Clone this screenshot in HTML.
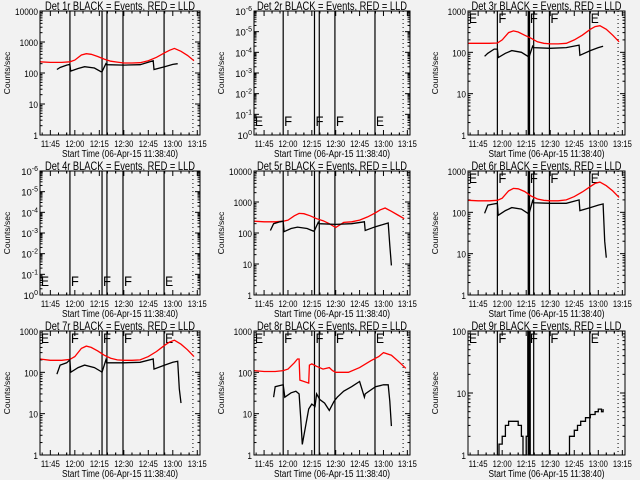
<!DOCTYPE html>
<html><head><meta charset="utf-8"><style>
html,body{margin:0;padding:0;background:#f2f2f2;}
svg{display:block;font-family:"Liberation Sans",sans-serif;}
</style></head><body>
<svg id="chart" width="640" height="480" viewBox="0 0 640 480">
<rect x="0" y="0" width="640" height="480" fill="#f2f2f2"/>
</svg>
<script>
// ---- data (times are clock strings, values are counts/sec) ----
const xTickLabels = ["11:45","12:00","12:15","12:30","12:45","13:00","13:15"];
const markerTimes = ["11:57","12:16:40","12:19:40","12:29:30","12:54:40"];
const markerLetters = ["F","F","F","F","E"];
const dottedTime = "13:12:20";
const redT = ["11:38:40","11:45","11:52","11:57","12:00","12:04","12:07","12:10","12:14","12:18","12:22","12:26","12:30","12:35","12:40","12:45","12:50","12:55","12:58","13:01","13:05","13:09","13:13"];
const p1Red = [230,220,220,230,260,380,420,400,340,280,240,225,210,210,215,250,320,450,540,620,500,370,250];
const p3Red = [165,165,165,168,200,300,330,310,260,220,180,165,160,160,165,200,260,360,420,440,360,260,180];
const p5Red = [240,230,230,240,260,360,430,420,360,290,250,200,150,220,230,260,330,450,560,640,500,380,290];
const p6Red = [195,190,190,195,220,330,380,370,320,250,210,195,190,190,200,240,310,420,500,540,440,330,230];
const p7Red = [210,195,195,205,240,380,430,400,330,260,220,200,195,195,200,240,320,450,540,600,480,350,240];
const p8RedT = ["11:38:40","11:45","11:52","11:57","12:00","12:04","12:06","12:07","12:07:30","12:13","12:13:30","12:15","12:18","12:22","12:26","12:28","12:30","12:38","12:45","12:52","12:57","13:00","13:05","13:09","13:14"];
const p8Red = [110,105,105,110,120,170,210,210,65,55,150,160,140,120,130,110,100,100,130,190,240,300,260,190,125];
const blackT = ["11:49","11:51","11:55","11:57","11:57:30","12:02","12:06","12:12","12:16","12:16:40","12:19","12:19:30","12:30","12:40","12:48","12:48:30","12:55","13:00","13:03","13:04","13:05"];
const p1Black = [130,150,180,190,115,140,160,145,110,110,200,185,180,185,250,130,160,190,200,null,null];
const p3Black = [80,95,120,120,75,95,110,100,80,75,140,130,125,130,150,85,110,130,140,null,null];
const p5Black = [120,200,230,240,110,140,155,140,115,120,220,200,190,200,230,120,160,190,210,40,9];
const p6Black = [95,150,160,165,85,110,130,120,95,90,190,170,165,165,200,110,130,150,160,20,8];
const p7Black = [90,150,170,200,100,130,150,130,105,100,200,170,170,175,210,120,150,175,185,40,18];
const p8BlackT = ["11:51","11:52","11:55","11:57","11:58","12:02","12:05","12:07","12:08","12:09","12:13","12:15","12:17","12:18","12:20","12:23","12:26","12:29","12:31","12:35","12:40","12:45","12:48","12:48:30","12:55","13:00","13:03","13:04","13:05"];
const p8Black = [25,45,48,50,25,32,35,30,8,1.8,13,17,15,30,22,18,12,20,25,35,45,60,25,30,45,50,50,20,5];
const p9BlackT = ["11:57","11:58","12:00","12:02","12:04","12:08","12:10","12:12","12:13","12:15","12:16","12:16:30","12:17","12:17:30","12:40","12:42","12:45","12:47","12:49","12:52","12:55","12:58","13:00","13:02","13:03"];
const p9Black = [1,1.5,2,3,3.5,3.5,3,2,1,2,100,1,100,1,1,2,2.5,3,3.5,4,4.5,5,5.5,5,5.5];
const panelNames = ["1r","2r","3r","4r","5r","6r","7r","8r","9r"];
const panelDecades = [4,0,3,0,4,3,3,3,2];

const svg = document.getElementById('chart');
const NS = "http://www.w3.org/2000/svg";
function mk(tag, attrs, parent){const e=document.createElementNS(NS,tag);for(const k in attrs)e.setAttribute(k,attrs[k]);(parent||svg).appendChild(e);return e;}
function tmin(s){const p=s.split(':').map(Number);return p[0]*60+p[1]+(p[2]||0)/60;}
const T0 = tmin("11:38:40"), TSPAN = 98;
const lefts=[40,254,468], widths=[160,156,157], tops=[11,171,331], H=124;

const redSeries = [p1Red,null,p3Red,null,p5Red,p6Red,p7Red,p8Red,null];
const blackSeries = [p1Black,null,p3Black,null,p5Black,p6Black,p7Black,p8Black,p9Black];

for(let i=0;i<9;i++){
  const L=lefts[i%3], W=widths[i%3], Tp=tops[Math.floor(i/3)], B=Tp+H;
  const dec=panelDecades[i];
  const xs=t=>L+(tmin(t)-T0)/TSPAN*W;
  const xm=m=>L+(m-T0)/TSPAN*W;
  const ys=v=>B-Math.log10(v)/dec*H;
  const g=mk('g',{});
  
  
  const t=mk('text',{x:L+W/2-75,y:Tp-1,'font-size':'12',textLength:150,lengthAdjust:'spacingAndGlyphs'},g);
  t.textContent='Det '+panelNames[i]+' BLACK = Events, RED = LLD';
  
  
  // markers
  markerTimes.forEach((mt,k)=>{
    const x=xs(mt);
    const ln=mk('line',{x1:x,x2:x,y1:Tp,y2:B,stroke:'#000','stroke-width':(i%3==2&&k==1)?2.5:1.2},g);
    
    
  });
  const dl=mk('line',{x1:xs(dottedTime),x2:xs(dottedTime),y1:Tp,y2:B,stroke:'#000','stroke-dasharray':'1,3'},g);
  
  
  // letters
  if(!(i===0||i===4)){
    const letterY = dec===0 ? B-9 : Tp+12;
    const lx=[L+1].concat(markerTimes.map(xs).map(v=>v+1));
    const ll=["E"].concat(markerLetters);
    lx.forEach((x,k)=>{
      if(k===3) return;
      const tx=mk('text',{x:x,y:letterY,'font-size':'14',textLength:8,lengthAdjust:'spacingAndGlyphs'},g);
      tx.textContent=ll[k];
      
      
    });
  }
  // y axis
  if(dec===0){
    for(let k=0;k<=6;k++){
      const y=Tp+k*H/6;
      mk('line',{x1:L,x2:L+5,y1:y,y2:y,stroke:'#000'},g);
      mk('line',{x1:L+W-5,x2:L+W,y1:y,y2:y,stroke:'#000'},g);
      for(let m=2;m<10&&k<6;m++){const yy=y+H/6*(1-Math.log10(m));mk('line',{x1:L,x2:L+2.5,y1:yy,y2:yy,stroke:'#000'},g);mk('line',{x1:L+W-2.5,x2:L+W,y1:yy,y2:yy,stroke:'#000'},g);}
      const lb=mk('text',{x:L-2,y:y+4,'text-anchor':'end','font-size':'9.5'},g);
      lb.innerHTML='10<tspan dy="-4" font-size="7">'+(k===6?'0':'-'+(6-k))+'</tspan>';
      
      
    }
  } else {
    for(let d=0;d<=dec;d++){
      const y=ys(Math.pow(10,d));
      mk('line',{x1:L,x2:L+5,y1:y,y2:y,stroke:'#000'},g);
      mk('line',{x1:L+W-5,x2:L+W,y1:y,y2:y,stroke:'#000'},g);
      if(d<dec)for(let m=2;m<10;m++){const yy=ys(m*Math.pow(10,d));mk('line',{x1:L,x2:L+2.5,y1:yy,y2:yy,stroke:'#000'},g);mk('line',{x1:L+W-2.5,x2:L+W,y1:yy,y2:yy,stroke:'#000'},g);}
      const s=String(Math.pow(10,d));
      const lb=mk('text',{x:L-2-s.length*4.6,y:y+4,'font-size':'9.5',textLength:s.length*4.6,lengthAdjust:'spacingAndGlyphs'},g);
      lb.textContent=s;
      
      
    }
  }
  const yt=mk('text',{x:0,y:0,'text-anchor':'middle','font-size':'8.5',transform:'translate('+(L-30)+','+(Tp+H/2)+') rotate(-90)'},g);
  yt.textContent='Counts/sec';
  
  
  // x axis
  xTickLabels.forEach(lbl=>{
    const m=tmin(lbl), x=xm(m);
    mk('line',{x1:x,x2:x,y1:B,y2:B-5,stroke:'#000'},g);
    mk('line',{x1:x,x2:x,y1:Tp,y2:Tp+5,stroke:'#000'},g);
    for(const d of [-10,-5,5,10]){const xx=xm(m+d);if(xx>L&&xx<L+W){mk('line',{x1:xx,x2:xx,y1:B,y2:B-2.5,stroke:'#000'},g);mk('line',{x1:xx,x2:xx,y1:Tp,y2:Tp+2.5,stroke:'#000'},g);}}
    const lb=mk('text',{x:x-9.5,y:B+12,'font-size':'9.5',textLength:19,lengthAdjust:'spacingAndGlyphs'},g);
    lb.textContent=lbl;
    
    
  });
  const xt=mk('text',{x:L+W/2-58,y:B+22,'font-size':'10',textLength:116,lengthAdjust:'spacingAndGlyphs'},g);
  xt.textContent='Start Time (06-Apr-15 11:38:40)';
  
  
  // series
  function line(times, vals, color, name, step){
    let d='', pen=false;
    for(let k=0;k<vals.length;k++){
      if(vals[k]==null){pen=false;continue;}
      const x=xs(times[k]).toFixed(1), y=ys(vals[k]).toFixed(1);
      if(!pen){d+='M'+x+' '+y;pen=true;}
      else if(step){d+='H'+x+'V'+y;}
      else d+='L'+x+' '+y;
    }
    const p=mk('path',{d:d,fill:'none',stroke:color,'stroke-width':1.3},g);
    
    
  }
  if(redSeries[i]) line(i===7?p8RedT:redT, redSeries[i], '#ff0000', 'lld-red-series', false);
  if(blackSeries[i]) line(i===7?p8BlackT:(i===8?p9BlackT:blackT), blackSeries[i], '#000000', 'events-black-series', i===8);
  const box=mk('rect',{x:L,y:Tp,width:W,height:H,fill:'none',stroke:'#000','stroke-width':1},g);
  
  
}
</script>
</body></html>
